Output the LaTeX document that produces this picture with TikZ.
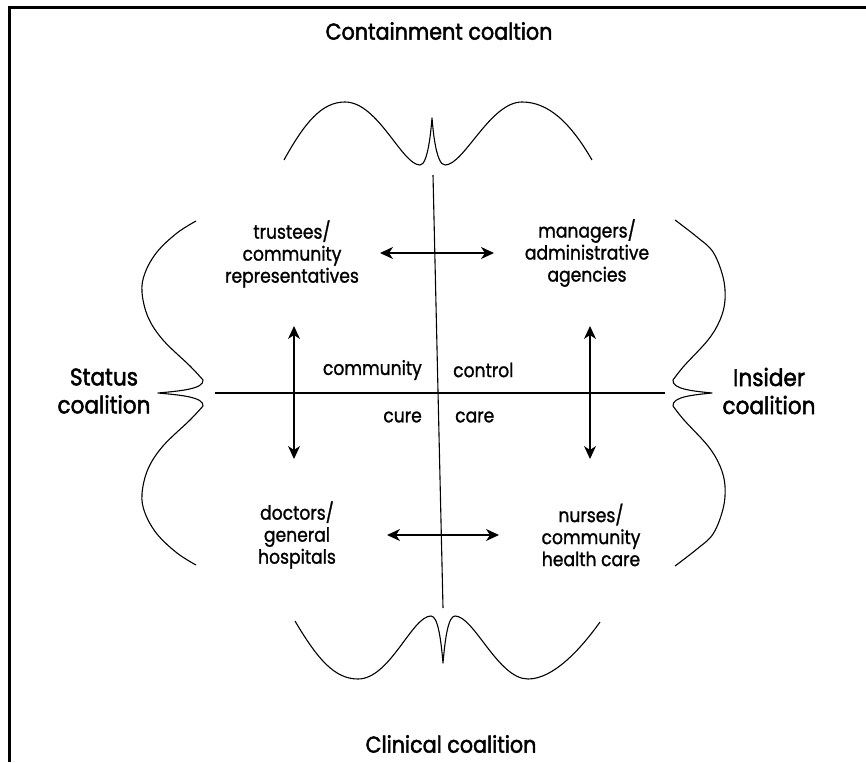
\documentclass[tikz,border=0pt]{standalone}
\usepackage{fontspec}
\setmainfont{Poppins}[FakeStretch=0.88,FakeBold=1.2]
\newfontfamily\headfont{Poppins}[FakeStretch=0.9,FakeBold=2]
\usetikzlibrary{arrows.meta}
\begin{document}
\begin{tikzpicture}[x=1pt,y=-1pt,
  lbl/.style={align=center,font=\fontsize{19.5}{22}\selectfont,inner sep=0pt},
  tag/.style={font=\fontsize{19.5}{22}\selectfont,inner sep=0pt},
  side/.style={align=center,font=\headfont\fontsize{24}{28}\selectfont,inner sep=0pt},
  head/.style={font=\headfont\fontsize{23}{26}\selectfont,inner sep=0pt},
  lobe/.style={line width=1.1pt,line join=round},
  axis/.style={line width=1.1pt},
  biarrow/.style={line width=1.3pt,{Stealth[length=13pt,width=12pt,inset=4pt]}-{Stealth[length=13pt,width=12pt,inset=4pt]}},
  frame/.style={line width=2.6pt}]
\useasboundingbox (0,0) rectangle (866,762);

% open frame: top and left rules
\draw[frame] (866,7.5) -- (9.5,7.5) -- (9.5,762);

% coalition titles
\node[head] (cont) at (439,31) {Containment coaltion};
\node[head] (clin) at (451,744) {Clinical coalition};
\node[side] (stat) at (104,391) {Status\\coalition};
\node[side] (ins)  at (769,391) {Insider\\coalition};

% quadrant groups
\node[lbl] (tl) at (292,254) {trustees/\\community\\representatives};
\node[lbl] (tr) at (587,253) {managers/\\administrative\\agencies};
\node[lbl] (bl) at (297,535) {doctors/\\general\\hospitals};
\node[lbl] (br) at (591,535) {nurses/\\community\\health care};

% axis words
\node[tag,anchor=east] (comm) at (422,370) {community};
\node[tag,anchor=west] (ctrl) at (453,370) {control};
\node[tag,anchor=east] (cure) at (422,417) {cure};
\node[tag,anchor=west] (care) at (455,417) {care};

% axes
\coordinate (vtop) at (433,175);
\coordinate (vbot) at (443,608);
\coordinate (hl) at (215,393);
\coordinate (hr) at (665,393);
\draw[axis] (vtop) -- (vbot);
\draw[axis] (hl) -- (hr);

% exchange arrows between the groups
\coordinate (tl-e) at (380,253);
\coordinate (tr-w) at (494,253);
\coordinate (bl-e) at (387,535);
\coordinate (br-w) at (499,535);
\coordinate (tl-s) at (294,326);
\coordinate (bl-n) at (294,459);
\coordinate (tr-s) at (590,326);
\coordinate (br-n) at (590,459);
\draw[biarrow] (tl-e) -- (tr-w);
\draw[biarrow] (bl-e) -- (br-w);
\draw[biarrow] (tl-s) -- (bl-n);
\draw[biarrow] (tr-s) -- (br-n);

% top lobes with central spike
\draw[lobe] (284,160) .. controls (305,122) and (322,102) .. (345,102)
  .. controls (378,102) and (402,165) .. (420,165)
  .. controls (428,165) and (431,130) .. (432,118)
  .. controls (433,130) and (436,165) .. (445,165)
  .. controls (464,165) and (490,102) .. (522,102)
  .. controls (548,102) and (570,122) .. (592,160);

% bottom lobes with central spike
\draw[lobe] (295,621) .. controls (318,660) and (335,679) .. (358,679)
  .. controls (390,679) and (412,616) .. (431,616)
  .. controls (438,616) and (441,640) .. (443,663)
  .. controls (445,640) and (448,616) .. (455,616)
  .. controls (474,616) and (498,679) .. (528,679)
  .. controls (553,679) and (580,650) .. (600,622);

% left lobes with central spike
\draw[lobe] plot[smooth,tension=0.6] coordinates {(196,221) (177,233) (157,252) (145,273) (142,292) (148,317) (163,340) (190,366) (203,380)}
  .. controls (204,389) and (180,391) .. (158,393)
  .. controls (180,395) and (204,397) .. (203,406);
\draw[lobe] plot[smooth,tension=0.6] coordinates {(203,406) (190,420) (163,446) (148,469) (142,494) (145,513) (157,534) (177,553) (196,565)};

% right lobes with central spike
\draw[lobe] plot[smooth,tension=0.6] coordinates {(675,220) (697,237) (713,252) (723,277) (725,300) (720,320) (708,340) (684,366) (673,380)}
  .. controls (672,389) and (692,391) .. (712,393)
  .. controls (692,395) and (672,397) .. (673,406);
\draw[lobe] plot[smooth,tension=0.6] coordinates {(673,406) (684,420) (708,446) (720,466) (725,486) (723,509) (713,534) (697,549) (675,566)};
\end{tikzpicture}
\end{document}
